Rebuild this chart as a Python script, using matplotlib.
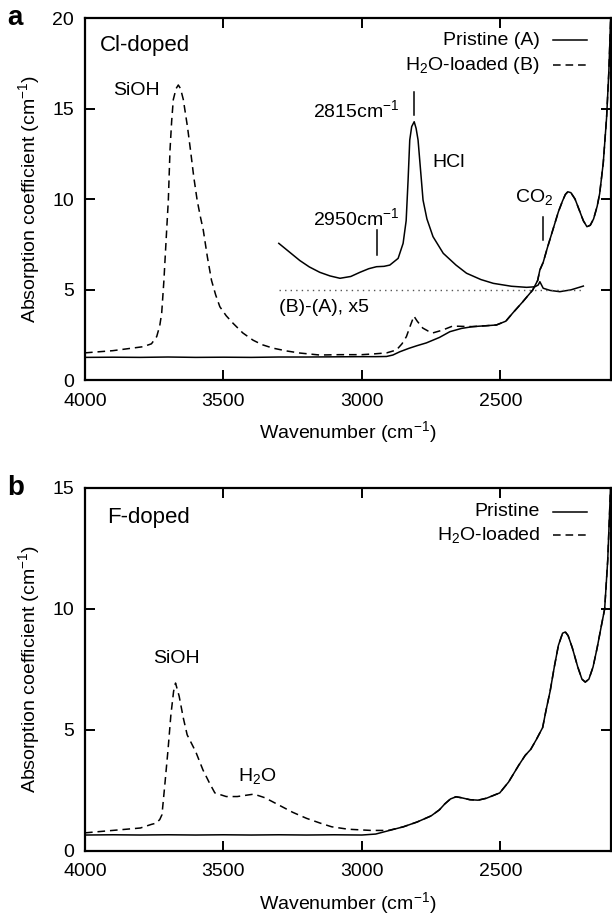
import numpy as np
import matplotlib
matplotlib.use("Agg")
import matplotlib.pyplot as plt

plt.rcParams['font.family'] = ['Liberation Sans', 'DejaVu Sans']
plt.rcParams['mathtext.fontset'] = 'custom'
plt.rcParams['mathtext.rm'] = 'Liberation Sans'
plt.rcParams['mathtext.it'] = 'Liberation Sans'
plt.rcParams['font.size'] = 14

# ---- panel a: Cl-doped ----
a_pristine_wn = [4000, 3900, 3800, 3700, 3600, 3500, 3400, 3300, 3200, 3100, 3000,
                 2950, 2911, 2888, 2863, 2830, 2800, 2767, 2720, 2682, 2640, 2599,
                 2550, 2514, 2480, 2455, 2420, 2383, 2365, 2357, 2345, 2330, 2310,
                 2290, 2275, 2265, 2256, 2245, 2230, 2215, 2200, 2187, 2175, 2163,
                 2150, 2141, 2128, 2116, 2108, 2100]
a_pristine = [1.25, 1.26, 1.25, 1.27, 1.25, 1.26, 1.25, 1.27, 1.27, 1.28, 1.29,
              1.29, 1.30, 1.38, 1.56, 1.75, 1.90, 2.05, 2.35, 2.67, 2.85, 2.95,
              3.00, 3.04, 3.25, 3.70, 4.30, 4.97, 5.50, 6.08, 6.50, 7.30, 8.30,
              9.30, 9.90, 10.25, 10.40, 10.35, 10.00, 9.40, 8.80, 8.47, 8.55, 8.90,
              9.60, 10.30, 12.0, 14.5, 17.0, 20.5]

a_loaded_wn = [4000, 3900, 3820, 3790, 3760, 3741, 3730, 3723, 3715, 3705, 3699,
               3693, 3687, 3681, 3671, 3663, 3655, 3645, 3630, 3619, 3607, 3595,
               3583, 3573, 3558, 3543, 3528, 3513, 3490, 3465, 3430, 3393, 3360,
               3321, 3270, 3224, 3152, 3080, 3000, 2950, 2910, 2875, 2855, 2839,
               2825, 2812, 2800, 2780, 2760, 2744, 2710, 2672, 2630, 2600]
a_loaded = [1.50, 1.62, 1.78, 1.84, 2.00, 2.40, 3.00, 3.70, 5.50, 8.30, 9.94,
            12.7, 14.3, 15.5, 16.1, 16.3, 16.1, 15.5, 14.0, 12.7, 11.2, 9.94,
            9.00, 8.30, 6.80, 5.50, 4.70, 4.05, 3.55, 3.13, 2.60, 2.20, 1.95,
            1.76, 1.60, 1.49, 1.38, 1.40, 1.40, 1.45, 1.50, 1.66, 2.00, 2.40,
            3.00, 3.53, 3.25, 2.87, 2.70, 2.60, 2.75, 2.98, 2.96, 2.95]

# (B)-(A) x5, drawn with +5 offset
a_diff_wn = [3300, 3260, 3224, 3190, 3152, 3115, 3079, 3040, 3007, 2975, 2947, 2920,
             2899, 2869, 2851, 2840, 2833, 2827, 2820, 2811, 2804, 2797, 2785,
             2779, 2765, 2743, 2706, 2660, 2622, 2570, 2525, 2460, 2405, 2375,
             2363, 2357, 2345, 2320, 2285, 2245, 2200]
a_diff = [7.55, 7.05, 6.60, 6.25, 5.95, 5.75, 5.62, 5.72, 5.95, 6.15, 6.26, 6.28,
          6.35, 6.72, 7.55, 8.80, 11.05, 13.26, 14.0, 14.27, 13.9, 13.26, 11.05,
          9.94, 8.90, 7.92, 7.00, 6.35, 5.90, 5.55, 5.34, 5.18, 5.12, 5.15,
          5.25, 5.43, 5.07, 4.95, 4.88, 4.98, 5.19]

# ---- panel b: F-doped ----
b_pristine_wn = [4000, 3900, 3800, 3700, 3600, 3500, 3400, 3300, 3200, 3100, 3000,
                 2950, 2900, 2850, 2800, 2750, 2720, 2700, 2680, 2660, 2640, 2610,
                 2580, 2550, 2502, 2470, 2433, 2410, 2390, 2370, 2347, 2335, 2320,
                 2305, 2290, 2275, 2265, 2255, 2240, 2220, 2205, 2193, 2180, 2165,
                 2150, 2135, 2123, 2112, 2100]
b_pristine = [0.66, 0.67, 0.66, 0.67, 0.66, 0.67, 0.66, 0.67, 0.66, 0.67, 0.66,
              0.70, 0.85, 1.00, 1.20, 1.45, 1.70, 1.95, 2.15, 2.24, 2.20, 2.12,
              2.10, 2.18, 2.40, 2.85, 3.55, 3.95, 4.20, 4.60, 5.10, 5.80, 6.60,
              7.60, 8.50, 9.00, 9.05, 8.90, 8.40, 7.60, 7.10, 6.98, 7.10, 7.60,
              8.40, 9.30, 10.0, 12.0, 15.5]

b_loaded_wn = [4000, 3900, 3800, 3760, 3743, 3730, 3722, 3712, 3700, 3690, 3680,
               3673, 3660, 3645, 3631, 3600, 3574, 3550, 3531, 3490, 3450, 3420,
               3390, 3350, 3300, 3250, 3200, 3150, 3109, 3050, 2967, 2920, 2900]
b_loaded = [0.75, 0.85, 0.95, 1.10, 1.15, 1.30, 1.50, 2.70, 4.20, 5.60, 6.60,
            6.94, 6.40, 5.50, 4.80, 4.10, 3.35, 2.80, 2.40, 2.25, 2.25, 2.30,
            2.35, 2.20, 1.90, 1.60, 1.35, 1.15, 1.00, 0.90, 0.85, 0.85, 0.86]

DASH = (0, (5, 3.2))
LW = 1.1

fig = plt.figure(figsize=(6.12, 9.19), dpi=100)
ax_a = fig.add_axes([0.1389, 0.5865, 0.8595, 0.3939])
ax_b = fig.add_axes([0.1389, 0.0740, 0.8595, 0.3950])


def style_axes(ax, ymax):
    ax.set_xlim(4000, 2100)
    ax.set_ylim(0, ymax)
    ax.set_xticks([4000, 3500, 3000, 2500])
    ax.set_yticks(np.arange(0, ymax + 1, 5))
    ax.tick_params(direction='in', length=7, width=1.4, top=True, right=True,
                   labelsize=14)
    ax.tick_params(axis='x', pad=9)
    ax.tick_params(axis='y', pad=8)
    for s in ax.spines.values():
        s.set_linewidth(1.6)
    ax.set_xlabel('Wavenumber (cm$^{-1}$)', fontsize=14, labelpad=7)
    ax.set_ylabel('Absorption coefficient (cm$^{-1}$)', fontsize=14, labelpad=7)


def legend(ax, labels, ys):
    for lab, y, ls in zip(labels, ys, ['-', DASH]):
        ax.text(0.865, y, lab, transform=ax.transAxes, ha='right', va='center',
                fontsize=14)
        ax.plot([0.89, 0.954], [y, y], transform=ax.transAxes, color='black',
                lw=LW, linestyle=ls, clip_on=False)


# panel a
tail = [w < a_loaded_wn[-1] for w in a_pristine_wn]
a_loaded_full_wn = a_loaded_wn + [w for w, t in zip(a_pristine_wn, tail) if t]
a_loaded_full = a_loaded + [v for v, t in zip(a_pristine, tail) if t]
ax_a.plot(a_pristine_wn, a_pristine, color='black', lw=LW)
ax_a.plot(a_loaded_full_wn, a_loaded_full, color='black', lw=LW, linestyle=DASH)
ax_a.plot(a_diff_wn, a_diff, color='black', lw=LW)
ax_a.plot([3300, 2200], [5, 5], color='#555555', lw=1.0, linestyle=(0, (1, 3)))
style_axes(ax_a, 20)

ax_a.text(3946, 18.5, 'Cl-doped', fontsize=16, va='center')
ax_a.text(3899, 16.0, 'SiOH', fontsize=14, va='center')
ax_a.text(2863, 14.9, '2815cm$^{-1}$', fontsize=14, va='center', ha='right')
ax_a.plot([2812, 2812], [14.64, 15.93], color='black', lw=LW)
ax_a.text(2744, 12.0, 'HCl', fontsize=14, va='center')
ax_a.text(2863, 8.95, '2950cm$^{-1}$', fontsize=14, va='center', ha='right')
ax_a.plot([2947, 2947], [6.91, 8.29], color='black', lw=LW)
ax_a.text(2447, 10.1, 'CO$_2$', fontsize=14, va='center')
ax_a.plot([2347, 2347], [7.73, 9.0], color='black', lw=LW)
ax_a.text(3300, 4.03, '(B)-(A), x5', fontsize=14, va='center')
legend(ax_a, ['Pristine (A)', 'H$_2$O-loaded (B)'], [0.939, 0.870])

# panel b
tail = [w < b_loaded_wn[-1] for w in b_pristine_wn]
b_loaded_full_wn = b_loaded_wn + [w for w, t in zip(b_pristine_wn, tail) if t]
b_loaded_full = b_loaded + [v for v, t in zip(b_pristine, tail) if t]
ax_b.plot(b_pristine_wn, b_pristine, color='black', lw=LW)
ax_b.plot(b_loaded_full_wn, b_loaded_full, color='black', lw=LW, linestyle=DASH)
style_axes(ax_b, 15)

ax_b.text(3921, 13.8, 'F-doped', fontsize=16, va='center')
ax_b.text(3671, 7.97, 'SiOH', fontsize=14, va='center', ha='center')
ax_b.text(3379, 3.1, 'H$_2$O', fontsize=14, va='center', ha='center')
legend(ax_b, ['Pristine', 'H$_2$O-loaded'], [0.934, 0.870])

fig.text(0.012, 0.9804, 'a', fontsize=20, fontweight='bold', va='center')
fig.text(0.012, 0.4690, 'b', fontsize=20, fontweight='bold', va='center')

fig.savefig('out.png', dpi=100)
